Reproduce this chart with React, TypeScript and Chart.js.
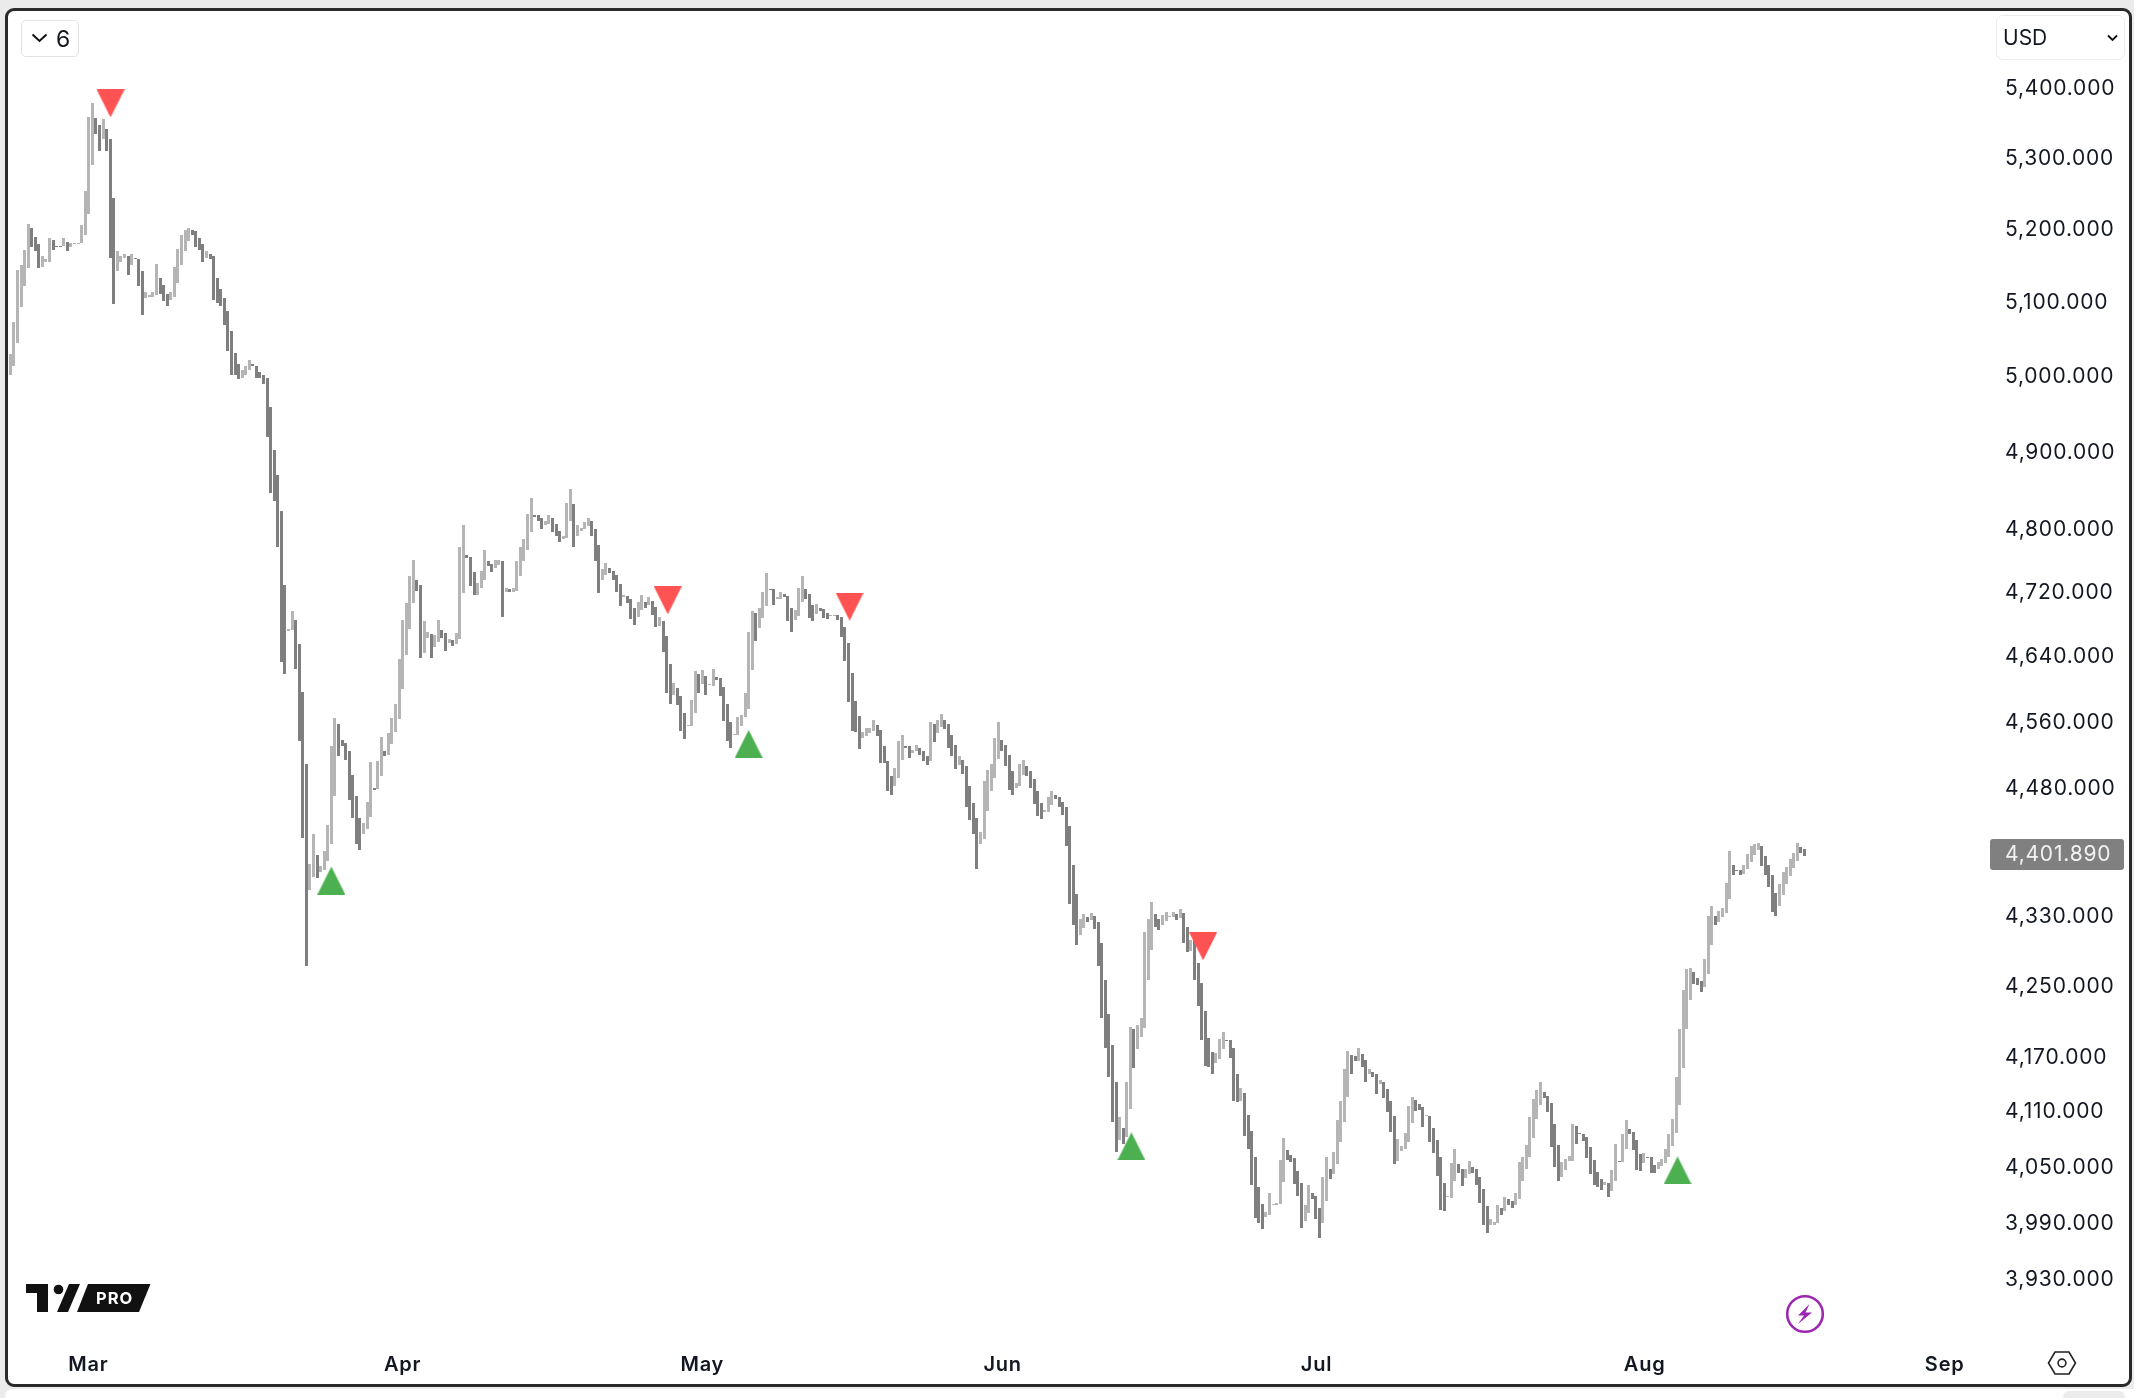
import React, { useEffect, useRef } from "react";
import { Chart, registerables } from "chart.js";

Chart.register(...registerables);

const barHigh: number[] = [
  5029,5072,5142,5149,5170,5206,5200,5188,5178,5162,
  5157,5187,5184,5176,5176,5186,5181,5179,5180,5180,
  5205,5252,5356,5377,5355,5345,5353,5340,5325,5242,
  5169,5162,5165,5162,5165,5159,5158,5141,5112,5108,
  5113,5151,5131,5122,5110,5112,5147,5172,5191,5197,
  5201,5197,5196,5186,5178,5168,5164,5162,5132,5116,
  5104,5086,5060,5030,5015,5007,5012,5021,5015,5013,
  5005,5001,4996,4958,4902,4869,4823,4728,4673,4695,
  4684,4654,4595,4508,4389,4425,4400,4387,4404,4435,
  4529,4563,4556,4537,4533,4524,4495,4470,4443,4437,
  4462,4510,4479,4511,4540,4524,4545,4563,4580,4636,
  4684,4705,4740,4760,4734,4728,4683,4669,4667,4666,
  4684,4672,4668,4661,4659,4668,4777,4805,4766,4764,
  4745,4731,4746,4772,4758,4755,4760,4760,4758,4724,
  4723,4725,4759,4777,4787,4818,4839,4817,4817,4814,
  4809,4817,4813,4806,4797,4791,4833,4851,4832,4805,
  4801,4808,4814,4809,4799,4779,4749,4756,4750,4746,
  4741,4730,4716,4715,4710,4699,4707,4716,4707,4713,
  4708,4700,4688,4683,4664,4630,4606,4600,4590,4569,
  4555,4585,4621,4617,4622,4615,4605,4624,4614,4612,
  4602,4581,4559,4544,4565,4567,4594,4669,4695,4693,
  4699,4719,4743,4723,4723,4713,4719,4717,4715,4699,
  4697,4724,4739,4723,4717,4703,4704,4699,4698,4693,
  4690,4690,4690,4688,4675,4656,4619,4584,4566,4547,
  4551,4551,4561,4555,4549,4530,4511,4494,4503,4536,
  4543,4529,4529,4525,4531,4527,4524,4518,4559,4556,
  4561,4568,4561,4556,4543,4531,4517,4513,4506,4481,
  4461,4444,4427,4487,4501,4508,4539,4559,4537,4531,
  4519,4499,4485,4508,4513,4505,4499,4490,4476,4461,
  4453,4469,4475,4471,4469,4463,4456,4434,4388,4354,
  4325,4331,4328,4332,4329,4322,4298,4256,4217,4183,
  4141,4103,4091,4142,4203,4200,4205,4213,4310,4325,
  4345,4331,4325,4330,4333,4329,4333,4331,4337,4332,
  4316,4301,4301,4275,4252,4221,4190,4175,4174,4189,
  4197,4188,4188,4179,4150,4135,4129,4105,4088,4059,
  4027,4009,4000,4021,4009,4010,4056,4080,4067,4062,
  4058,4044,4031,4008,4029,4021,4017,4005,4038,4060,
  4047,4065,4100,4120,4156,4176,4171,4170,4179,4173,
  4166,4156,4153,4150,4144,4142,4134,4121,4104,4079,
  4071,4085,4115,4125,4122,4117,4114,4105,4104,4091,
  4078,4059,4031,4017,4053,4068,4052,4047,4046,4055,
  4049,4046,4038,4025,4007,3993,3990,4008,4005,4016,
  4014,4012,4021,4054,4060,4073,4103,4123,4133,4142,
  4130,4126,4118,4095,4073,4054,4057,4061,4095,4093,
  4085,4084,4081,4070,4056,4043,4036,4032,4031,4045,
  4074,4055,4084,4100,4090,4087,4078,4063,4064,4060,
  4060,4051,4054,4057,4068,4084,4101,4147,4200,4244,
  4268,4269,4265,4258,4255,4279,4329,4340,4329,4335,
  4338,4367,4405,4388,4382,4382,4388,4401,4411,4413,
  4414,4411,4399,4388,4376,4355,4366,4380,4386,4395,
  4402,4414,4409,4407,
];

const barLow: number[] = [
  5000,5013,5043,5092,5120,5145,5174,5168,5145,5146,
  5153,5154,5170,5175,5175,5175,5169,5174,5178,5179,
  5179,5191,5220,5288,5332,5308,5325,5308,5159,5096,
  5141,5154,5159,5136,5149,5157,5120,5081,5104,5105,
  5106,5108,5109,5100,5093,5101,5106,5125,5149,5169,
  5183,5191,5174,5170,5154,5159,5158,5102,5097,5093,
  5068,5032,5000,5000,4995,4996,5000,5007,5012,4997,
  4996,4989,4918,4845,4835,4777,4632,4617,4671,4672,
  4623,4536,4420,4271,4359,4374,4373,4380,4382,4393,
  4413,4470,4517,4530,4513,4465,4444,4413,4406,4424,
  4430,4445,4477,4478,4494,4517,4519,4532,4546,4562,
  4599,4641,4673,4705,4721,4637,4643,4662,4637,4651,
  4657,4662,4646,4656,4652,4654,4661,4718,4762,4727,
  4716,4716,4724,4734,4752,4745,4750,4754,4688,4720,
  4719,4720,4721,4740,4758,4772,4795,4815,4809,4799,
  4805,4806,4796,4790,4783,4787,4788,4810,4777,4791,
  4797,4799,4803,4790,4758,4718,4735,4741,4743,4734,
  4719,4702,4713,4705,4686,4678,4688,4697,4699,4703,
  4690,4675,4677,4645,4594,4581,4591,4579,4548,4538,
  4554,4554,4569,4594,4605,4592,4604,4603,4610,4590,
  4560,4536,4527,4543,4543,4554,4565,4575,4622,4658,
  4674,4687,4702,4722,4703,4711,4711,4713,4683,4669,
  4684,4689,4707,4710,4687,4683,4692,4695,4687,4685,
  4689,4689,4684,4663,4633,4583,4548,4547,4526,4539,
  4542,4545,4548,4542,4509,4509,4476,4471,4482,4491,
  4513,4527,4515,4521,4523,4519,4511,4507,4512,4534,
  4545,4553,4550,4527,4518,4502,4507,4496,4456,4441,
  4424,4384,4413,4419,4452,4476,4491,4514,4524,4506,
  4477,4471,4479,4482,4495,4493,4479,4460,4446,4442,
  4450,4451,4459,4466,4456,4447,4411,4343,4318,4295,
  4307,4315,4322,4324,4314,4272,4213,4179,4147,4098,
  4065,4078,4074,4081,4112,4157,4178,4192,4201,4256,
  4290,4316,4313,4319,4323,4328,4328,4324,4327,4298,
  4287,4289,4256,4226,4188,4159,4158,4150,4162,4167,
  4178,4187,4168,4121,4119,4121,4082,4068,4029,3994,
  3989,3982,3995,3997,4008,4008,4009,4032,4056,4054,
  4030,4017,3983,3991,3999,4014,3993,3973,3989,4012,
  4036,4041,4052,4076,4097,4125,4150,4165,4165,4158,
  4142,4150,4147,4128,4139,4124,4108,4087,4052,4055,
  4066,4068,4076,4096,4110,4111,4092,4104,4076,4064,
  4039,4002,4001,4016,4015,4034,4042,4028,4037,4041,
  4042,4029,4010,3987,3978,3987,3987,3989,3997,4001,
  4008,4005,4008,4014,4034,4046,4059,4080,4101,4116,
  4124,4108,4070,4049,4034,4038,4045,4055,4055,4074,
  4084,4077,4058,4041,4029,4027,4024,4029,4016,4023,
  4034,4054,4054,4068,4084,4067,4045,4044,4053,4059,
  4042,4042,4046,4050,4053,4060,4071,4086,4116,4157,
  4200,4233,4251,4250,4242,4248,4263,4295,4318,4322,
  4328,4332,4348,4376,4381,4377,4378,4383,4392,4400,
  4406,4387,4376,4363,4333,4329,4341,4353,4366,4375,
  4385,4393,4402,4399,
];

// U = bar drawn in the light tone, D = bar drawn in the dark tone
const barDirection: string =
  "UUUUUUDDDU" + "UUDDDUDUUU" + "UUUUDDUDDD" + "UUUDUDDDUU" + "UUDDDUUUUU" +
  "UDDDDUDDDD" + "DDDDDUUUDD" + "DDDDDDDDUU" + "DDDDUUDUUU" + "UUDDDDDDDU" +
  "UUDUUDUUUU" + "UUUUDDUUDU" + "UDDUDUUUDD" + "DUUUDDUUDU" + "DUUUUUUDDD" +
  "UUDDDUUUDU" + "UUUDDDUUDD" + "DDUDDDUUDU" + "DDUDDDUDDD" + "UUUDUDUUDD" +
  "DDDUUUUUUD" + "UUUDDUUDDD" + "UUUDDDUDDD" + "UUDDDDDDDU" + "UUUDDDDDUU" +
  "UDDUUDDDUD" + "UUDDDDUDDD" + "DDUUUUUUDD" + "DDUUUDDDDD" + "UUUDDDDDDD" +
  "UUDUDDDDDD" + "DUDUUDUUUU" + "UDDUUUUDUD" + "DUDDDDDDUU" + "UDDDDUDDDD" +
  "DDUUUUUUDD" + "DDDUUDDDUU" + "DUUUUUDDUD" + "DUDDUDDDDU" + "UUUUDDDUDD" +
  "DDDUUUDDUU" + "DDDDDUUUDU" + "DDUUUUUUUU" + "DDDDDUUUUD" + "DDDDDDDUDU" +
  "UDUUDDDDUD" + "DDUUUUUUUU" + "UUDDDUUUDU" + "UUUDDDUUUU" + "UDDDDDUUUU" +
  "UUDD";

const sellIndex: number[] = [28.1, 184.3, 235.3, 334.4];
const sellPrice: number[] = [5376, 4709, 4701, 4294];
const buyIndex: number[] = [90, 207, 314.3, 467.4];
const buyPrice: number[] = [4370, 4532, 4071, 4045];

const priceTicks: number[] = [
  5400, 5300, 5200, 5100, 5000, 4900, 4800, 4720, 4640, 4560, 4480, 4330, 4250, 4170, 4110, 4050, 3990, 3930,
];
const monthLabels: string[] = ["Mar", "Apr", "May", "Jun", "Jul", "Aug", "Sep"];
const monthIndex: number[] = [21.9, 110, 194, 278.2, 366.2, 458.2, 542.3];
const lastPrice = 4401.89;

const FONT = "Inter, 'Noto Sans', sans-serif";
const fmt = (v: number) =>
  v.toLocaleString("en-US", { minimumFractionDigits: 3, maximumFractionDigits: 3 });

function triangleImage(color: string, down: boolean): HTMLCanvasElement {
  const c = document.createElement("canvas");
  c.width = 28;
  c.height = 28;
  const g = c.getContext("2d")!;
  g.fillStyle = color;
  g.beginPath();
  if (down) {
    g.moveTo(0, 0);
    g.lineTo(28, 0);
    g.lineTo(14, 28);
  } else {
    g.moveTo(14, 0);
    g.lineTo(28, 28);
    g.lineTo(0, 28);
  }
  g.closePath();
  g.fill();
  return c;
}

const snapBars = {
  id: "snapBars",
  beforeDraw(chart: any) {
    chart.ctx.letterSpacing = "0.8px";
    // nudge the price labels so their digits sit centred on the tick position
    chart.scales.y.getLabelItems(chart.chartArea).forEach((item: any) => {
      if (!item.nudged) {
        item.textOffset += 1.5;
        item.nudged = true;
      }
    });
  },
  beforeDatasetsDraw(chart: any) {
    const meta = chart.getDatasetMeta(2);
    meta.data.forEach((el: any) => {
      const left = Math.round(el.x - 1.5);
      el.x = left + 1.5;
      const top = Math.round(Math.min(el.y, el.base));
      let bottom = Math.round(Math.max(el.y, el.base));
      if (bottom <= top) bottom = top + 1;
      el.y = top;
      el.base = bottom;
    });
  },
};

const priceTag = {
  id: "priceTag",
  afterDraw(chart: any) {
    const { ctx, scales } = chart;
    const y = Math.round(scales.y.getPixelForValue(lastPrice)) + 1;
    ctx.save();
    ctx.fillStyle = "#808080";
    ctx.beginPath();
    ctx.roundRect(1990, y - 15, 134, 31, 3);
    ctx.fill();
    ctx.fillStyle = "#f2f2f2";
    ctx.font = `400 21px ${FONT}`;
    ctx.textAlign = "left";
    ctx.textBaseline = "middle";
    ctx.fillText(fmt(lastPrice), 2005, y + 1);
    ctx.restore();
  },
};

const abs = (left: number, top: number, width: number, height: number): React.CSSProperties => ({
  position: "absolute",
  left,
  top,
  width,
  height,
  boxSizing: "border-box",
});

export default function App() {
  const ref = useRef<HTMLCanvasElement | null>(null);

  useEffect(() => {
    document.body.style.margin = "0";
    document.body.style.background = "#ebebeb";
    document.documentElement.style.overflow = "hidden";
    const chart = new Chart(ref.current!, {
      type: "bar",
      data: {
        datasets: [
          {
            type: "scatter",
            data: sellIndex.map((x, i) => ({ x, y: sellPrice[i] })),
            pointStyle: triangleImage("#ff5252", true) as any,
            order: 0,
          },
          {
            type: "scatter",
            data: buyIndex.map((x, i) => ({ x, y: buyPrice[i] })),
            pointStyle: triangleImage("#4caf50", false) as any,
            order: 0,
          },
          {
            type: "bar",
            data: barHigh.map((h, i) => ({ x: i, y: [barLow[i], h] })) as any,
            backgroundColor: barHigh.map((_, i) => (barDirection[i] === "U" ? "#b5b5b5" : "#7f7f7f")),
            barThickness: 3,
            grouped: false,
            inflateAmount: 0,
            borderWidth: 0,
            order: 1,
          },
        ],
      } as any,
      options: {
        animation: false,
        responsive: false,
        devicePixelRatio: 1,
        events: [],
        layout: { padding: { left: 8, top: 11, right: 2, bottom: 11 } },
        plugins: { legend: { display: false }, tooltip: { enabled: false } },
        scales: {
          x: {
            type: "linear",
            offset: false,
            min: -0.645,
            max: 553.6,
            grid: { display: false, drawTicks: false },
            border: { display: false },
            afterFit: (s: any) => {
              s.height = 57;
            },
            afterBuildTicks: (s: any) => {
              s.ticks = monthIndex.map((value) => ({ value }));
            },
            ticks: {
              autoSkip: false,
              maxRotation: 0,
              padding: 23,
              color: "#131722",
              font: { family: FONT, size: 20, weight: 600 },
              callback: (v: any) => monthLabels[monthIndex.indexOf(Number(v))] ?? "",
            },
          },
          y: {
            type: "logarithmic",
            position: "right",
            min: 3876.5,
            max: 5510.1,
            grid: { display: false, drawTicks: false },
            border: { display: false },
            afterFit: (s: any) => {
              s.width = 147;
              s.paddingTop = 0;
              s.paddingBottom = 0;
            },
            afterBuildTicks: (s: any) => {
              s.ticks = priceTicks.map((value) => ({ value }));
            },
            ticks: {
              autoSkip: false,
              padding: 20,
              crossAlign: "near",
              color: "#131722",
              font: { family: FONT, size: 21, weight: 400 },
              callback: (v: any) => fmt(Number(v)),
            },
          },
        },
      } as any,
      plugins: [snapBars, priceTag],
    });
    return () => chart.destroy();
  }, []);

  return (
    <div style={{ position: "absolute", left: 0, top: 0, width: 2134, height: 1398, overflow: "hidden", background: "#ebebeb" }}>
      <div style={{ ...abs(5, 1389, 2129, 9), background: "#fff", borderTopLeftRadius: 8 }} />
      <div style={{ ...abs(2063, 1391, 62, 12), background: "#ececec", borderRadius: 10 }} />
      <div style={{ ...abs(5, 8, 2127, 1379), background: "#fff", border: "3px solid #2a2a2a", borderRadius: 9 }} />
      <canvas ref={ref} width={2134} height={1398} style={{ position: "absolute", left: 0, top: 0, display: "block" }} />

      <div style={{ ...abs(21, 20, 58, 37), border: "1px solid #e2e2e2", borderRadius: 5 }} />
      <svg style={abs(31, 33, 17, 10)} viewBox="0 0 17 10">
        <path d="M1.5 1.5 L8.5 8 L15.5 1.5" fill="none" stroke="#111" strokeWidth="2" />
      </svg>
      <span style={{ position: "absolute", left: 56, top: 24, font: `400 23px/30px ${FONT}`, color: "#131722" }}>6</span>

      <div style={{ ...abs(1996, 15, 129, 45), border: "1px solid #ececec", borderRadius: 7 }} />
      <span style={{ position: "absolute", left: 2003, top: 24, font: `400 21px/28px ${FONT}`, color: "#131722" }}>USD</span>
      <svg style={abs(2107, 34, 11, 8)} viewBox="0 0 11 8">
        <path d="M1 1.5 L5.5 6 L10 1.5" fill="none" stroke="#111" strokeWidth="1.8" />
      </svg>

      <svg style={abs(26, 1284, 125, 28)} viewBox="0 0 125 28">
        <path d="M0 0 H22 V28 H11 V9 H0 Z" fill="#111" />
        <circle cx="32.5" cy="5.5" r="4.8" fill="#111" />
        <path d="M31 28 H42 L54 0 H43 Z" fill="#111" />
        <path d="M51 28 H113 L124.5 0 H62 Z" fill="#111" />
        <text x="70" y="19.5" fill="#fff" fontFamily={FONT} fontWeight="700" fontSize="16.5" letterSpacing="1">PRO</text>
      </svg>

      <svg style={abs(1785, 1294, 40, 40)} viewBox="0 0 40 40">
        <circle cx="20" cy="20" r="17.8" fill="none" stroke="#9c27b0" strokeWidth="2.6" />
        <path d="M24.5 10 L13 21.5 H19 L13 30 L27 18.5 H20.5 Z" fill="#9c27b0" />
      </svg>

      <svg style={abs(2047, 1350, 30, 26)} viewBox="0 0 30 26">
        <path d="M1.5 13 L8 2 H22 L28.5 13 L22 24 H8 Z" fill="none" stroke="#222" strokeWidth="1.6" />
        <circle cx="15" cy="13" r="3.9" fill="none" stroke="#222" strokeWidth="1.6" />
      </svg>
    </div>
  );
}
